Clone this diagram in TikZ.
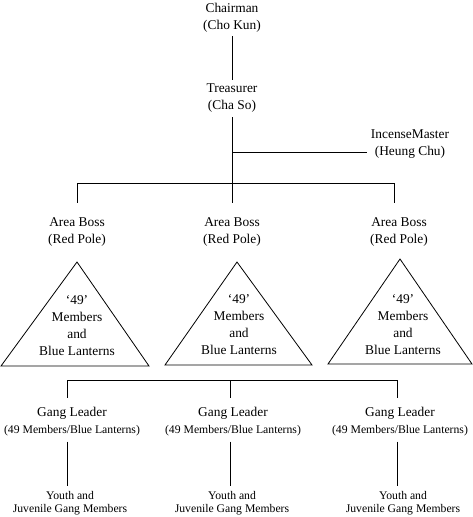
\documentclass[tikz,border=0pt]{standalone}
\usepackage{fontspec}
\setmainfont{Liberation Serif}
\begin{document}
\begin{tikzpicture}[x=1pt,y=-1pt,
  lbl/.style={align=center, inner sep=4pt, font=\fontsize{13.4}{17}\selectfont},
  small/.style={align=center, inner sep=5pt, font=\fontsize{11.7}{13}\selectfont},
  conn/.style={draw=black, line width=0.8pt},
  tri/.style={draw=black, line width=0.8pt, line join=miter}]
\useasboundingbox (0,0) rectangle (473,517);
% top chain
\node[lbl] (chair) at (232,17.4) {Chairman\\(Cho Kun)};
\node[lbl] (treas) at (232,98.5) {Treasurer\\(Cha So)};
\node[lbl] (incense) at (410,144) {IncenseMaster\\(Heung Chu)};
\coordinate (jI) at (232,152);
\coordinate (jT) at (232,183);
\coordinate (aL) at (77,183);
\coordinate (aR) at (394,183);
\draw[conn] (chair) -- (treas);
\draw[conn] (treas.south) -- (jT);
\draw[conn] (jI) -- (jI -| incense.west);
\draw[conn] (aL) -- (aR);
% area bosses
\node[lbl] (area1) at (77,232) {Area Boss\\(Red Pole)};
\node[lbl] (area2) at (232,232) {Area Boss\\(Red Pole)};
\node[lbl] (area3) at (399,232) {Area Boss\\(Red Pole)};
\draw[conn, shorten >=10pt] (aL) -- (aL |- area1.north);
\draw[conn, shorten >=10pt] (jT) -- (jT |- area2.north);
\draw[conn, shorten >=10pt] (aR) -- (aR |- area3.north);
% triangles
\draw[tri] (77,262) -- (1,366) -- (149,366) -- cycle;
\draw[tri] (237,262) -- (165,365) -- (312,365) -- cycle;
\draw[tri] (400,259) -- (328,364) -- (472,364) -- cycle;
\node[lbl] (t1) at (77,326) {‘49’\\Members\\and\\Blue Lanterns};
\node[lbl] (t2) at (239,325) {‘49’\\Members\\and\\Blue Lanterns};
\node[lbl] (t3) at (403,325) {‘49’\\Members\\and\\Blue Lanterns};
% gang leaders
\coordinate (gL) at (67,380);
\coordinate (gM) at (230,380);
\coordinate (gR) at (397,380);
\draw[conn] (gL) -- (gR);
\node[lbl, inner sep=5pt] (gl1) at (72,422) {Gang Leader\\{\fontsize{11.7}{17}\selectfont (49 Members/Blue Lanterns)}};
\node[lbl, inner sep=5pt] (gl2) at (233,422) {Gang Leader\\{\fontsize{11.7}{17}\selectfont (49 Members/Blue Lanterns)}};
\node[lbl, inner sep=5pt] (gl3) at (400,422) {Gang Leader\\{\fontsize{11.7}{17}\selectfont (49 Members/Blue Lanterns)}};
\draw[conn, shorten >=4.5pt] (gL) -- (gL |- gl1.north);
\draw[conn, shorten >=4.5pt] (gM) -- (gM |- gl2.north);
\draw[conn, shorten >=4.5pt] (gR) -- (gR |- gl3.north);
% youth
\node[small] (y1) at (70,503.5) {Youth and\\Juvenile Gang Members};
\node[small] (y2) at (232,503.5) {Youth and\\Juvenile Gang Members};
\node[small] (y3) at (403,503.5) {Youth and\\Juvenile Gang Members};
\draw[conn] (gl1.south -| gL) -- (y1.north -| gL);
\draw[conn] (gl2.south -| gM) -- (y2.north -| gM);
\draw[conn] (gl3.south -| gR) -- (y3.north -| gR);
\end{tikzpicture}
\end{document}
